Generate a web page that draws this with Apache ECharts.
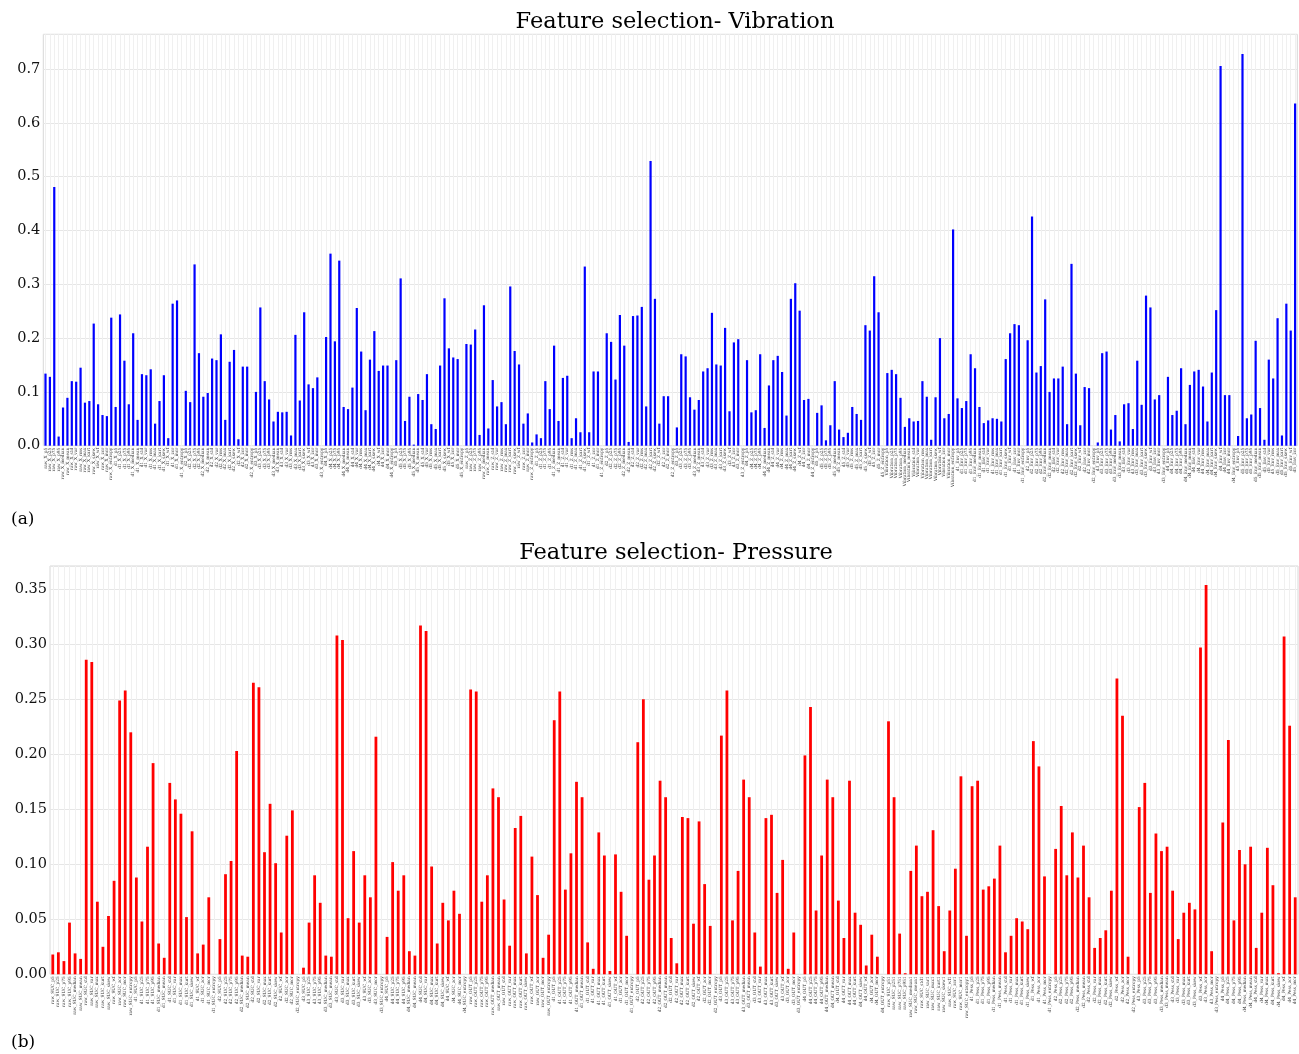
<!DOCTYPE html>
<html><head><meta charset="utf-8">
<script src="https://cdn.jsdelivr.net/npm/echarts@6/dist/echarts.min.js"></script>
<style>html,body{margin:0;padding:0;background:#fff}#c{width:1299px;height:1054px}</style>
</head><body><div id="c"></div>
<script>
// ---------- categories ----------
const vibFeatures = ['p5','p25','p75','p95','median','mean','std','var','rms','max','kurt','skew','wf','zcr','mcr','entropy'];
const vibGroups = ['raw_X','d1_X','d2_X','d3_X','d4_X','d5_X','raw_Z','d1_Z','d2_Z','d3_Z','d4_Z','d5_Z','Vibration','d1_Env','d2_Env','d3_Env','d4_Env','d5_Env'];
const presFeatures = ['p5','p25','p75','p95','median','mean','std','var','max','kurt','skew','wf','zcr','mcr','entropy'];
const presGroups = ['raw_SUC','d1_SUC','d2_SUC','d3_SUC','d4_SUC','raw_OUT','d1_OUT','d2_OUT','d3_OUT','d4_OUT','raw_SUC#1','d1_Pess','d2_Pess','d3_Pess','d4_Pess'];

// ---------- values ----------
const vibValues = [
0.134,0.128,0.481,0.017,0.071,0.089,0.120,0.119,0.145,0.080,0.083,0.227,0.077,0.057,0.055,0.238,
0.072,0.244,0.158,0.077,0.209,0.048,0.133,0.131,0.142,0.041,0.083,0.131,0.014,0.264,0.270,0,
0.102,0.081,0.337,0.172,0.091,0.098,0.162,0.159,0.207,0.048,0.156,0.178,0.012,0.147,0.147,0,
0.100,0.257,0.120,0.086,0.045,0.063,0.062,0.063,0.019,0.206,0.084,0.248,0.114,0.107,0.127,0,
0.202,0.357,0.194,0.344,0.072,0.068,0.108,0.256,0.175,0.066,0.160,0.213,0.139,0.149,0.149,0,
0.159,0.311,0.046,0.091,0.002,0.096,0.085,0.133,0.040,0.031,0.149,0.274,0.181,0.164,0.161,0,
0.189,0.188,0.216,0.020,0.261,0.032,0.122,0.073,0.081,0.040,0.296,0.176,0.151,0.041,0.060,0.006,
0.021,0.014,0.120,0.068,0.186,0.046,0.126,0.130,0.014,0.051,0.025,0.333,0.025,0.138,0.138,0,
0.209,0.193,0.123,0.243,0.186,0.007,0.241,0.242,0.258,0.073,0.529,0.273,0.041,0.092,0.092,0,
0.034,0.170,0.166,0.090,0.067,0.085,0.138,0.144,0.247,0.151,0.149,0.219,0.064,0.192,0.198,0,
0.159,0.062,0.066,0.170,0.033,0.112,0.159,0.167,0.137,0.056,0.273,0.302,0.251,0.085,0.087,0,
0.061,0.075,0.010,0.038,0.120,0.030,0.016,0.024,0.072,0.059,0.048,0.224,0.214,0.315,0.248,0,
0.135,0.141,0.133,0.089,0.035,0.051,0.045,0.046,0.120,0.091,0.011,0.090,0.200,0.051,0.059,0.402,
0.088,0.070,0.083,0.170,0.144,0.072,0.042,0.047,0.051,0.050,0.045,0.161,0.209,0.226,0.224,0,
0.196,0.426,0.136,0.148,0.272,0.100,0.125,0.125,0.147,0.040,0.338,0.134,0.038,0.109,0.107,0,
0.006,0.172,0.175,0.030,0.057,0.008,0.077,0.079,0.031,0.158,0.076,0.279,0.257,0.086,0.094,0,
0.128,0.057,0.065,0.144,0.040,0.113,0.138,0.141,0.110,0.045,0.136,0.252,0.706,0.094,0.094,0,
0.018,0.728,0.051,0.058,0.195,0.070,0.011,0.160,0.125,0.237,0.019,0.264,0.214,0.636
];
const presValues = [
0.018,0.020,0.012,0.047,0.019,0.014,0.286,0.284,0.066,0.025,0.053,0.085,0.249,0.258,0.220,
0.088,0.048,0.116,0.192,0.028,0.015,0.174,0.159,0.146,0.052,0.130,0.019,0.027,0.070,0,
0.032,0.091,0.103,0.203,0.017,0.016,0.265,0.261,0.111,0.155,0.101,0.038,0.126,0.149,0,
0.006,0.047,0.090,0.065,0.017,0.016,0.308,0.304,0.051,0.112,0.047,0.090,0.070,0.216,0,
0.034,0.102,0.076,0.090,0.021,0.017,0.317,0.312,0.098,0.028,0.065,0.049,0.076,0.055,0,
0.259,0.257,0.066,0.090,0.169,0.161,0.068,0.026,0.133,0.144,0.019,0.107,0.072,0.015,0.036,
0.231,0.257,0.077,0.110,0.175,0.161,0.029,0.005,0.129,0.108,0.003,0.109,0.075,0.035,0,
0.211,0.250,0.086,0.108,0.176,0.161,0.033,0.010,0.143,0.142,0.046,0.139,0.082,0.044,0,
0.217,0.258,0.049,0.094,0.177,0.161,0.038,0.007,0.142,0.145,0.074,0.104,0.005,0.038,0,
0.199,0.243,0.058,0.108,0.177,0.161,0.067,0.033,0.176,0.056,0.045,0.008,0.036,0.016,0,
0.230,0.161,0.037,0.001,0.094,0.117,0.071,0.075,0.131,0.062,0.021,0.058,0.096,0.180,0.035,
0.171,0.176,0.077,0.080,0.087,0.117,0.020,0.035,0.051,0.048,0.041,0.212,0.189,0.089,0,
0.114,0.153,0.090,0.129,0.088,0.117,0.070,0.024,0.033,0.040,0.076,0.269,0.235,0.016,0,
0.152,0.174,0.074,0.128,0.112,0.116,0.076,0.032,0.056,0.065,0.059,0.297,0.354,0.021,0,
0.138,0.213,0.049,0.113,0.100,0.116,0.024,0.056,0.115,0.081,0.001,0.307,0.226,0.070
];

// ---------- texts ----------
const titleVib = 'Feature selection- Vibration';
const titlePres = 'Feature selection- Pressure';
const panelA = '(a)';
const panelB = '(b)';

function buildLabels(groups, feats, n) {
  const out = [];
  groups.forEach(g => {
    const parts = g.split('#');
    feats.forEach(f => out.push(parts[0] + '_' + f + (parts[1] || '')));
  });
  return out.slice(0, n);
}
const vibCats = buildLabels(vibGroups, vibFeatures, vibValues.length);
const presCats = buildLabels(presGroups, presFeatures, presValues.length);

const SERIF = 'DejaVu Serif';
function yFmt(step, dec) {
  return function (v) {
    const k = Math.round(v / step);
    return Math.abs(v - k * step) < 1e-7 ? v.toFixed(dec) : '';
  };
}
function xAxisCfg(cats, idx) {
  return {
    type: 'category', gridIndex: idx, data: cats, boundaryGap: true,
    axisLine: { show: false }, axisTick: { show: false },
    splitLine: { show: true, alignWithLabel: true, lineStyle: { color: '#f0f0f0', width: 1 } },
    axisLabel: { interval: 0, rotate: 90, fontSize: 4.3, margin: 2, color: '#333', fontFamily: SERIF }
  };
}
function yAxisCfg(idx, max, step, dec) {
  return {
    type: 'value', gridIndex: idx, min: 0, max: max, interval: step,
    axisLine: { show: false }, axisTick: { show: false },
    splitLine: { show: true, lineStyle: { color: '#e6e6e6', width: 1 } },
    axisLabel: { fontSize: 14.5, margin: 3, color: '#111', fontFamily: SERIF, formatter: yFmt(step, dec) }
  };
}

const chart = echarts.init(document.getElementById('c'), null, { renderer: 'canvas' });
chart.setOption({
  animation: false,
  backgroundColor: '#fff',
  grid: [
    { left: 43.3, top: 34.3, width: 1254, height: 411.4, show: true, borderColor: '#d8d8d8', borderWidth: 1, backgroundColor: 'transparent', outerBoundsMode: 'none' },
    { left: 50, top: 566, width: 1248, height: 408.3, show: true, borderColor: '#d8d8d8', borderWidth: 1, backgroundColor: 'transparent', outerBoundsMode: 'none' }
  ],
  xAxis: [xAxisCfg(vibCats, 0), xAxisCfg(presCats, 1)],
  yAxis: [yAxisCfg(0, 0.7647, 0.1, 1), yAxisCfg(1, 0.3712, 0.05, 2)],
  series: [
    { type: 'bar', xAxisIndex: 0, yAxisIndex: 0, data: vibValues, barWidth: '50%', itemStyle: { color: '#0000ff' } },
    { type: 'bar', xAxisIndex: 1, yAxisIndex: 1, data: presValues, barWidth: '50%', itemStyle: { color: '#ff0000' } }
  ],
  graphic: [
    { type: 'text', x: 675, y: 22, style: { text: titleVib, font: '22.5px "DejaVu Serif"', fill: '#000', textAlign: 'center', textVerticalAlign: 'middle' } },
    { type: 'text', x: 676, y: 553, style: { text: titlePres, font: '22.5px "DejaVu Serif"', fill: '#000', textAlign: 'center', textVerticalAlign: 'middle' } },
    { type: 'text', x: 11, y: 520, style: { text: panelA, font: '17px "DejaVu Serif"', fill: '#000', textAlign: 'left', textVerticalAlign: 'middle' } },
    { type: 'text', x: 11, y: 1043, style: { text: panelB, font: '17px "DejaVu Serif"', fill: '#000', textAlign: 'left', textVerticalAlign: 'middle' } }
  ]
});
</script></body></html>
